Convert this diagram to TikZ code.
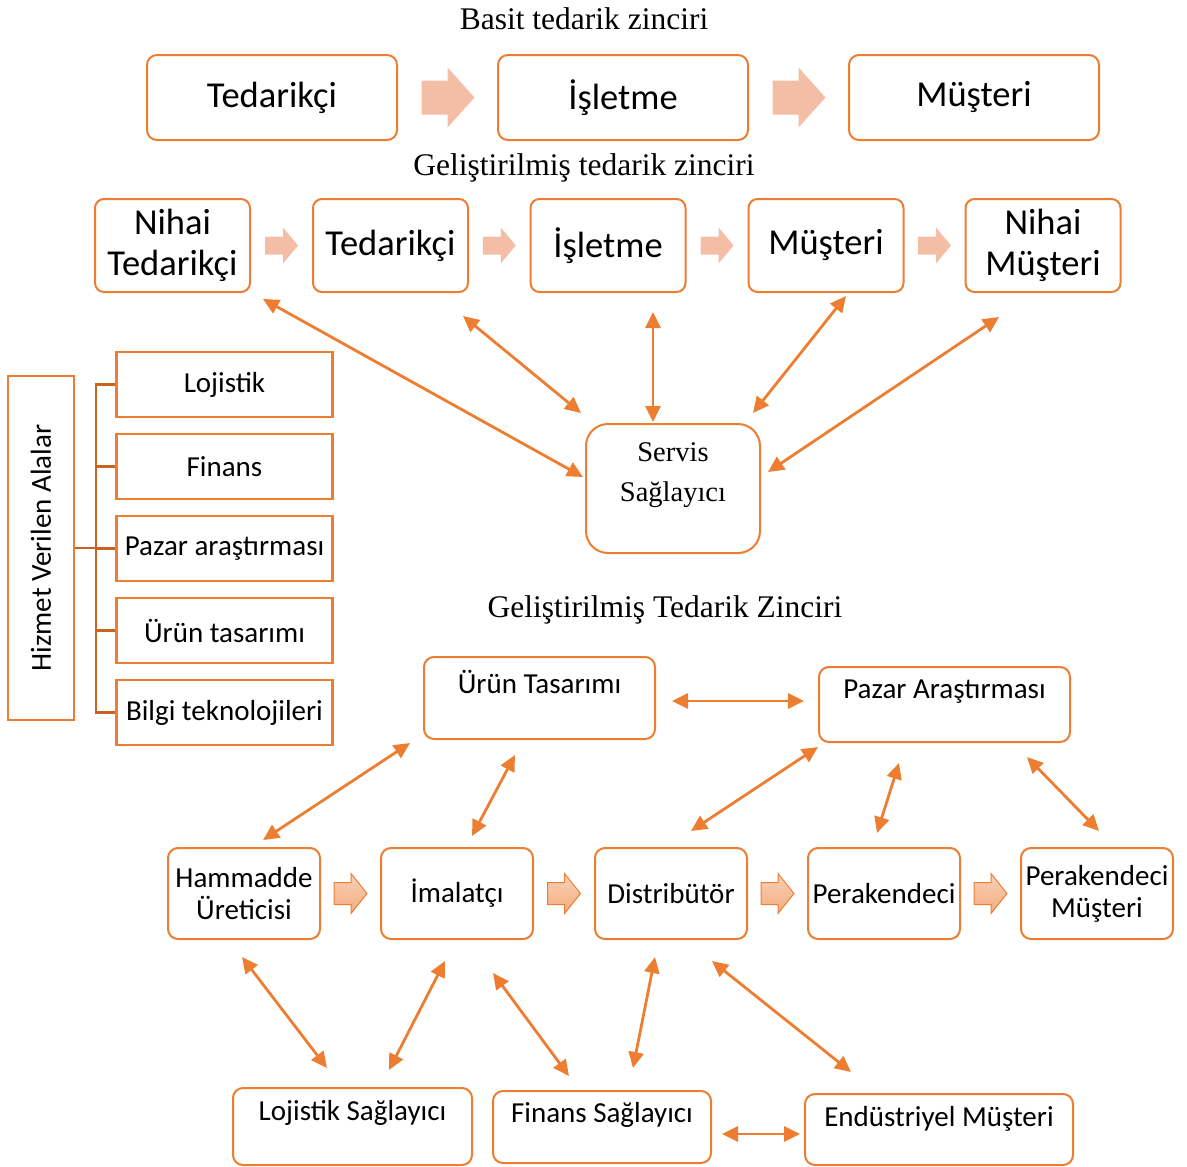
\documentclass[tikz,border=0pt]{standalone}
\usepackage{fontspec}
\setmainfont{Liberation Serif}
\newfontfamily\calibri{Carlito}
\usetikzlibrary{arrows.meta,calc}
\definecolor{orbox}{HTML}{ED7D31}
\definecolor{brk}{HTML}{C8641F}
\definecolor{blockfill}{HTML}{F4BEA6}
\definecolor{gradtop}{HTML}{F9D2B8}
\definecolor{gradbot}{HTML}{F4AC7E}

\tikzset{
  ttl/.style={font=\fontsize{31.5}{36}\selectfont, anchor=base, inner sep=0pt},
  bigbox/.style={draw=orbox, line width=2pt, rounded corners=10pt,
    font=\calibri\fontsize{36.5}{41}\selectfont, align=center, inner sep=0pt,
    minimum width=250pt, minimum height=85pt},
  midbox/.style={draw=orbox, line width=2pt, rounded corners=9pt,
    font=\calibri\fontsize{36.5}{41}\selectfont, align=center, inner sep=0pt,
    minimum width=155pt, minimum height=93pt},
  svtext/.style={font=\fontsize{28.5}{40}\selectfont, align=center, inner sep=0pt},
  lbox/.style={draw=orbox, line width=2.5pt, font=\calibri\fontsize{29}{32}\selectfont,
    inner sep=0pt},
  itembox/.style={lbox, minimum width=216pt, minimum height=65pt},
  brkline/.style={draw=brk, line width=2.5pt},
  rbox/.style={draw=orbox, line width=2pt, rounded corners=10pt,
    font=\calibri\fontsize{29}{32}\selectfont, align=center, inner sep=0pt},
  rowbox/.style={rbox, minimum width=152pt, minimum height=91pt},
  toptext/.style={font=\calibri\fontsize{29}{32}\selectfont, inner sep=0pt},
  dbl/.style={draw=orbox, line width=2.8pt,
    {Triangle[length=16pt,width=15pt]}-{Triangle[length=16pt,width=15pt]}},
  bigarr/.pic={\fill[blockfill] (-26,-17) -- (0,-17) -- (0,-30) -- (27,0)
      -- (0,30) -- (0,17) -- (-26,17) -- cycle;},
  smallarr/.pic={\fill[blockfill] (-16.5,-9) -- (1.5,-9) -- (1.5,-18) -- (16.5,0)
      -- (1.5,18) -- (1.5,9) -- (-16.5,9) -- cycle;},
  gradarr/.pic={\path[draw=orbox, line width=1pt, top color=gradtop, bottom color=gradbot]
      (-16.5,-11) -- (0.5,-11) -- (0.5,-20) -- (16.5,0)
      -- (0.5,20) -- (0.5,11) -- (-16.5,11) -- cycle;},
}

\begin{document}
\begin{tikzpicture}[x=1pt,y=-1pt]
\useasboundingbox (0,0) rectangle (1187,1167);

% ---------- simple chain ----------
\node[ttl] (t1) at (584,30) {Basit tedarik zinciri};
\node[bigbox] (ted1) at (272,97.5) {Tedarikçi};
\node[bigbox] (isl1) at (623,97.5) {İşletme};
\node[bigbox] (mus1) at (974,97.5) {Müşteri};
\pic at ($(ted1.east)!0.5!(isl1.west)$) {bigarr};
\pic at ($(isl1.east)!0.5!(mus1.west)$) {bigarr};

% ---------- extended chain ----------
\node[ttl] (t2) at (584,175) {Geliştirilmiş tedarik zinciri};
\node[midbox] (nt) at (172.5,245.5) {Nihai\\Tedarikçi};
\node[midbox] (ted2) at (390.5,245.5) {Tedarikçi};
\node[midbox] (isl2) at (608,245.5) {İşletme};
\node[midbox] (mus2) at (826,245.5) {Müşteri};
\node[midbox] (nm) at (1043,245.5) {Nihai\\Müşteri};
\pic at ($(nt.east)!0.5!(ted2.west)$) {smallarr};
\pic at ($(ted2.east)!0.5!(isl2.west)$) {smallarr};
\pic at ($(isl2.east)!0.5!(mus2.west)$) {smallarr};
\pic at ($(mus2.east)!0.5!(nm.west)$) {smallarr};

\node[draw=orbox, line width=2pt, rounded corners=22pt, minimum width=174pt,
  minimum height=129pt, inner sep=0pt,
  label={[svtext, yshift=13.5pt]center:Servis\\Sağlayıcı}] (srv) at (673,488.5) {};

\draw[dbl] ([shift={(-90,-11.5)}]srv.center) -- ([shift={(90.5,53.5)}]nt.center);
\draw[dbl] ([shift={(-92,-75.5)}]srv.center) -- ([shift={(72.5,70.5)}]ted2.center);
\draw[dbl] ([shift={(-20,-66.5)}]srv.center) -- ([shift={(45,66.5)}]isl2.center);
\draw[dbl] ([shift={(80,-75.5)}]srv.center) -- ([shift={(20,50.5)}]mus2.center);
\draw[dbl] ([shift={(95,-16.5)}]srv.center) -- ([shift={(-44,71.5)}]nm.center);

% ---------- service areas ----------
\node[lbox, minimum width=66pt, minimum height=344pt] (hiz) at (41,548)
  {\rotatebox{90}{Hizmet Verilen Alalar}};
\node[itembox] (a1) at (224.5,384.5) {Lojistik};
\node[itembox] (a2) at (224.5,466.5) {Finans};
\node[itembox] (a3) at (224.5,548.5) {Pazar araştırması};
\node[itembox] (a4) at (224.5,630.5) {Ürün tasarımı};
\node[itembox] (a5) at (224.5,712.5) {Bilgi teknolojileri};
\coordinate (bj) at (96,548.5);
\draw[brkline] (hiz.east) -- (hiz.east -| bj);
\draw[brkline] (a1.west) -| (bj) |- (a5.west);
\draw[brkline] (a2.west) -- (a2.west -| bj);
\draw[brkline] (a3.west) -- (a3.west -| bj);
\draw[brkline] (a4.west) -- (a4.west -| bj);

% ---------- detailed chain ----------
\node[ttl] (t3) at (665,617) {Geliştirilmiş Tedarik Zinciri};
\node[rbox, minimum width=231pt, minimum height=82pt,
  label={[toptext, yshift=16pt]center:Ürün Tasarımı}] (urun) at (539.5,698) {};
\node[rbox, minimum width=251pt, minimum height=75pt,
  label={[toptext, yshift=12.5pt]center:Pazar Araştırması}] (pazar) at (944.5,704.5) {};

\node[rowbox] (ham) at (244,893.5) {Hammadde\\Üreticisi};
\node[rowbox] (ima) at (457,893.5) {İmalatçı};
\node[rowbox] (dis) at (671,893.5) {Distribütör};
\node[rowbox] (per) at (884,893.5) {Perakendeci};
\node[rowbox] (pm) at (1097,893.5) {Perakendeci\\Müşteri};
\pic at ($(ham.east)!0.5!(ima.west)$) {gradarr};
\pic at ($(ima.east)!0.5!(dis.west)$) {gradarr};
\pic at ($(dis.east)!0.5!(per.west)$) {gradarr};
\pic at ($(per.east)!0.5!(pm.west)$) {gradarr};

\node[rbox, minimum width=239pt, minimum height=77pt,
  label={[toptext, yshift=13.5pt]center:Lojistik Sağlayıcı}] (loj) at (352.5,1126.5) {};
\node[rbox, minimum width=218pt, minimum height=72pt,
  label={[toptext, yshift=12pt]center:Finans Sağlayıcı}] (fin) at (602,1127) {};
\node[rbox, minimum width=268pt, minimum height=71pt,
  label={[toptext, yshift=10.5pt]center:Endüstriyel Müşteri}] (end) at (939,1129.5) {};

\draw[dbl] ([shift={(132.5,3)}]urun.center) -- ([shift={(-140.5,-3.5)}]pazar.center);
\draw[dbl] ([shift={(-129.5,45)}]urun.center) -- ([shift={(19,-53.5)}]ham.center);
\draw[dbl] ([shift={(-24.5,57)}]urun.center) -- ([shift={(15,-57.5)}]ima.center);
\draw[dbl] ([shift={(-126.5,42.5)}]pazar.center) -- ([shift={(20,-62.5)}]dis.center);
\draw[dbl] ([shift={(-45.5,58.5)}]pazar.center) -- ([shift={(-7,-60.5)}]per.center);
\draw[dbl] ([shift={(82.5,52.5)}]pazar.center) -- ([shift={(2,-62.5)}]pm.center);
\draw[dbl] ([shift={(-2,63.5)}]ham.center) -- ([shift={(-25.5,-58.5)}]loj.center);
\draw[dbl] ([shift={(-12,67.5)}]ima.center) -- ([shift={(36.5,-56.5)}]loj.center);
\draw[dbl] ([shift={(36,79.5)}]ima.center) -- ([shift={(-33,-51)}]fin.center);
\draw[dbl] ([shift={(-16,63.5)}]dis.center) -- ([shift={(31,-59)}]fin.center);
\draw[dbl] ([shift={(41,67.5)}]dis.center) -- ([shift={(-88,-57.5)}]end.center);
\draw[dbl] ([shift={(120,7)}]fin.center) -- ([shift={(-139,4.5)}]end.center);
\end{tikzpicture}
\end{document}
